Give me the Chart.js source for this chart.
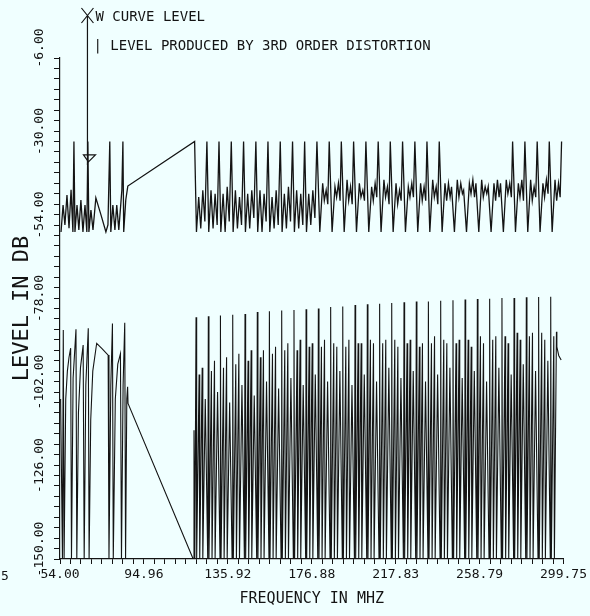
<!DOCTYPE html>
<html>
<head>
<meta charset="utf-8">
<script src="https://cdn.jsdelivr.net/npm/chart.js@4.4.0/dist/chart.umd.min.js"></script>
<style>
    html, body { margin: 0; padding: 0; background: #f0ffff; }
    #wrap { width: 590px; height: 616px; position: relative; }
</style>
</head>
<body>
<div id="wrap"><canvas id="myChart"></canvas></div>
<script>
var xTicks = [54.00, 94.96, 135.92, 176.88, 217.83, 258.79, 299.75];
var yTicks = [-150, -126, -102, -78, -54, -30, -6];

// W curve level (upper trace)
var wFreq = [
    54.5, 55.5, 56.4, 57.4, 58.4, 59.4, 60.3, 60.8, 61.3, 62.3, 63.2, 64.2, 65.2, 66.2, 67.1, 67.6, 68.1,
    69.1, 70.1, 71.5, 74.0, 76.4, 77.4, 78.3, 78.8, 79.8, 80.8, 81.7, 82.7, 84.2, 84.7, 85.1, 86.1, 87.1,
    119.7, 120.6, 121.7, 122.7, 123.7, 124.7,
    125.7, 126.6, 127.7, 128.7, 129.7, 130.7,
    131.6, 132.5, 133.6, 134.6, 135.6, 136.6,
    137.6, 138.5, 139.6, 140.6, 141.6, 142.6,
    143.6, 144.5, 145.6, 146.6, 147.6, 148.6,
    149.6, 150.5, 151.6, 152.6, 153.6, 154.6,
    155.5, 156.4, 157.5, 158.5, 159.5, 160.5,
    161.5, 162.4, 163.5, 164.5, 165.5, 166.5,
    167.5, 168.4, 169.5, 170.5, 171.5, 172.5,
    173.4, 174.3, 175.4, 176.4, 177.4, 178.4,
    179.4, 180.8, 182.2, 183.0, 183.9, 184.7,
    185.4, 186.8, 188.2, 189.0, 189.9, 190.7,
    191.3, 192.7, 194.1, 194.9, 195.8, 196.6,
    197.3, 198.7, 200.1, 200.9, 201.8, 202.6,
    203.3, 204.7, 206.1, 206.9, 207.8, 208.6,
    209.3, 210.7, 212.1, 212.9, 213.8, 214.6,
    215.2, 216.6, 218.0, 218.8, 219.7, 220.5,
    221.2, 222.6, 224.0, 224.8, 225.7, 226.5,
    227.2, 228.6, 230.0, 230.8, 231.7, 232.5,
    233.1, 234.5, 235.9, 236.7, 237.6, 238.4,
    239.1, 240.5, 241.9, 242.7, 243.6, 244.4,
    245.1, 246.5, 247.9, 248.7, 249.6, 250.4,
    251.0, 252.4, 253.8, 254.6, 255.5, 256.3,
    257.0, 258.4, 259.8, 260.6, 261.5, 262.3,
    263.0, 264.4, 265.8, 266.6, 267.5, 268.3,
    269.0, 270.4, 271.8, 272.6, 273.5, 274.3,
    274.9, 276.3, 277.7, 278.5, 279.4, 280.2,
    280.9, 282.3, 283.7, 284.5, 285.4, 286.2,
    286.9, 288.3, 289.7, 290.5, 291.4, 292.2,
    292.8, 294.2, 295.6, 296.4, 297.3, 298.1,
    298.8
];
var wLevel = [
    -56, -48.3, -54, -45.4, -54.9, -43.9, -56, -30, -56, -48.3, -55.4, -46.8, -56, -48.3, -56, -30, -56,
    -49.7, -55.4, -46.2, -51.1, -56, -54, -30, -56, -48.3, -55.4, -48.3, -55.4, -43.9, -30, -56, -46.8, -42.8,
    -30, -56, -46, -55, -44, -53,
    -30, -56, -44, -55, -45, -54,
    -30, -56, -45, -56, -43, -53,
    -30, -56, -44, -55, -46, -54,
    -30, -56, -45, -55, -44, -52,
    -30, -56, -44, -56, -45, -53,
    -30, -56, -46, -55, -44, -54,
    -30, -56, -45, -55, -43, -53,
    -30, -56, -44, -55, -45, -54,
    -30, -56, -45, -54, -44, -52,
    -30, -56, -42, -47, -44, -48,
    -30, -56, -43, -46, -42, -47,
    -30, -56, -41, -47, -43, -48,
    -30, -56, -42, -46, -44, -47,
    -30, -56, -43, -47, -42, -46,
    -30, -56, -41, -46, -43, -48,
    -30, -56, -42, -48, -44, -47,
    -30, -56, -43, -46, -42, -46,
    -30, -56, -42, -47, -43, -47,
    -30, -56, -41, -46, -43, -48,
    -30, -56, -42, -47, -42, -46,
    -43, -56, -41, -46, -42, -45,
    -44, -56, -42, -45, -41, -46,
    -42, -56, -41, -46, -43, -45,
    -43, -56, -42, -47, -41, -46,
    -42, -56, -41, -45, -42, -46,
    -30, -56, -42, -46, -41, -47,
    -30, -56, -41, -47, -43, -46,
    -30, -56, -42, -46, -41, -45,
    -30, -56, -41, -47, -42, -46,
    -30
];

// level produced by 3rd order distortion (lower trace)
var dFreq = [
    54.3, 55.2, 55.6, 56.0, 56.8, 57.6, 58.4, 59.2, 59.6, 60.4, 61.8, 62.2, 63.0, 64.0, 65.3, 65.8, 66.6,
    67.8, 68.2, 69.0, 70.0, 71.9, 74.5, 77.5, 77.9, 78.8, 79.6, 80.0, 81.0, 82.2, 83.5, 84.0, 84.8, 85.6,
    86.0, 86.6, 87.0, 87.2, 119.0, 119.4, 119.8,
    120.4, 120.7, 121.9, 122.2, 123.4, 123.7, 124.9, 126.1,
    126.4, 126.7, 127.9, 128.2, 129.4, 129.7, 130.9, 132.1,
    132.3, 132.6, 133.8, 134.1, 135.3, 135.6, 136.8, 138.0,
    138.3, 138.6, 139.8, 140.1, 141.3, 141.6, 142.8, 144.0,
    144.3, 144.6, 145.8, 146.1, 147.3, 147.6, 148.8, 150.0,
    150.3, 150.6, 151.8, 152.1, 153.3, 153.6, 154.8, 156.0,
    156.2, 156.5, 157.7, 158.0, 159.2, 159.5, 160.7, 161.9,
    162.2, 162.5, 163.7, 164.0, 165.2, 165.5, 166.7, 167.9,
    168.2, 168.5, 169.7, 170.0, 171.2, 171.5, 172.7, 173.9,
    174.1, 174.4, 175.6, 175.9, 177.1, 177.4, 178.6, 179.8,
    180.1, 180.4, 181.6, 181.9, 183.1, 183.4, 184.6, 185.8,
    186.1, 186.4, 187.6, 187.9, 189.1, 189.4, 190.6, 191.8,
    192.0, 192.3, 193.5, 193.8, 195.0, 195.3, 196.5, 197.7,
    198.0, 198.3, 199.5, 199.8, 201.0, 201.3, 202.5, 203.7,
    204.0, 204.3, 205.5, 205.8, 207.0, 207.3, 208.5, 209.7,
    210.0, 210.3, 211.5, 211.8, 213.0, 213.3, 214.5, 215.7,
    215.9, 216.2, 217.4, 217.7, 218.9, 219.2, 220.4, 221.6,
    221.9, 222.2, 223.4, 223.7, 224.9, 225.2, 226.4, 227.6,
    227.9, 228.2, 229.4, 229.7, 230.9, 231.2, 232.4, 233.6,
    233.8, 234.1, 235.3, 235.6, 236.8, 237.1, 238.3, 239.5,
    239.8, 240.1, 241.3, 241.6, 242.8, 243.1, 244.3, 245.5,
    245.8, 246.1, 247.3, 247.6, 248.8, 249.1, 250.3, 251.5,
    251.7, 252.0, 253.2, 253.5, 254.7, 255.0, 256.2, 257.4,
    257.7, 258.0, 259.2, 259.5, 260.7, 261.0, 262.2, 263.4,
    263.7, 264.0, 265.2, 265.5, 266.7, 267.0, 268.2, 269.4,
    269.7, 270.0, 271.2, 271.5, 272.7, 273.0, 274.2, 275.4,
    275.6, 275.9, 277.1, 277.4, 278.6, 278.9, 280.1, 281.3,
    281.6, 281.9, 283.1, 283.4, 284.6, 284.9, 286.1, 287.3,
    287.6, 287.9, 289.1, 289.4, 290.6, 290.9, 292.1, 293.3,
    293.5, 293.8, 295.0, 295.3, 296.3, 296.5, 297.4, 298.6
];
var dLevel = [
    -104, -150, -84.2, -150, -104, -96, -92, -89.4, -150, -98, -84, -150, -108, -95, -88.5, -150, -100,
    -83.7, -150, -110, -96, -88, -89.5, -91.4, -150, -100, -82.3, -150, -104, -94, -91, -150, -100, -82.1,
    -150, -104, -100.5, -105.3, -150, -113, -150,
    -80.5, -150, -97, -150, -95, -150, -104, -150,
    -80.2, -150, -96, -150, -93, -150, -102, -150,
    -80, -150, -95, -150, -92, -150, -105, -150,
    -79.8, -150, -94, -150, -91, -150, -100, -150,
    -79.6, -150, -93, -150, -90, -150, -103, -150,
    -79, -150, -92, -150, -90, -150, -99, -150,
    -78.8, -150, -91, -150, -89, -150, -101, -150,
    -78.6, -150, -90, -150, -88, -150, -98, -150,
    -78.4, -150, -90, -150, -87, -150, -100, -150,
    -78.2, -150, -89, -150, -88, -150, -97, -150,
    -78, -150, -89, -150, -87, -150, -99, -150,
    -77.6, -150, -88, -150, -89, -150, -96, -150,
    -77.4, -150, -89, -150, -87, -150, -100, -150,
    -77, -150, -88, -150, -88, -150, -97, -150,
    -76.8, -150, -87, -150, -88, -150, -99, -150,
    -76.6, -150, -88, -150, -87, -150, -95, -150,
    -76.4, -150, -87, -150, -89, -150, -98, -150,
    -76.2, -150, -88, -150, -87, -150, -96, -150,
    -76, -150, -89, -150, -88, -150, -99, -150,
    -76, -150, -88, -150, -86, -150, -97, -150,
    -75.8, -150, -87, -150, -88, -150, -95, -150,
    -75.6, -150, -88, -150, -87, -150, -98, -150,
    -75.4, -150, -87, -150, -89, -150, -96, -150,
    -75.3, -150, -86, -150, -88, -150, -99, -150,
    -75.2, -150, -87, -150, -86, -150, -95, -150,
    -75, -150, -86, -150, -88, -150, -97, -150,
    -75, -150, -85, -150, -87, -150, -94, -150,
    -74.8, -150, -86, -150, -85, -150, -96, -150,
    -74.7, -150, -85, -150, -87, -150, -93, -150,
    -74.6, -150, -86, -150, -84.7, -89, -91.5, -92.8
];

// where the legend arrow points on the W curve
var arrowFreq = 67.4;
var arrowLevel = -35;

var ink = '#141414';
var plotFont = '"DejaVu Sans Mono", "Liberation Mono", monospace';

function toPoints(xs, ys) {
    return xs.map(function (x, i) {
        return {x: x, y: ys[i]};
    });
}

function withMinor(major) {
    var list = [];
    for (var i = 0; i < major.length - 1; i++) {
        var step = (major[i + 1] - major[i]) / 8;
        for (var j = 0; j < 8; j++) {
            list.push({value: major[i] + j * step});
        }
    }
    list.push({value: major[major.length - 1]});
    return list;
}

var plotNotes = {
    id: 'plotNotes',
    beforeDraw: function (chart) {
        var c = chart.ctx;
        c.save();
        c.fillStyle = '#f0ffff';
        c.fillRect(0, 0, chart.width, chart.height);
        c.restore();
    },
    afterDraw: function (chart) {
        var c = chart.ctx;
        var ax = chart.scales.x.getPixelForValue(arrowFreq);
        var ay = chart.scales.y.getPixelForValue(arrowLevel);
        c.save();
        c.strokeStyle = ink;
        c.fillStyle = ink;
        c.lineWidth = 1.2;
        c.beginPath();
        c.moveTo(ax - 6, 8); c.lineTo(ax + 6, 23);
        c.moveTo(ax + 6, 8); c.lineTo(ax - 6, 23);
        c.moveTo(ax, 16); c.lineTo(ax, ay + 6);
        c.stroke();
        c.beginPath();
        c.moveTo(ax - 4, ay - 4);
        c.lineTo(ax + 8, ay - 4);
        c.lineTo(ax + 1, ay + 3);
        c.closePath();
        c.stroke();
        c.font = '14px ' + plotFont;
        c.textBaseline = 'middle';
        c.fillText('W CURVE LEVEL', ax + 8, 17);
        c.fillText('| LEVEL PRODUCED BY 3RD ORDER DISTORTION', ax + 6, 46);
        c.font = '13px ' + plotFont;
        c.fillText('5', 1, 577);
        c.restore();
    }
};

var ctx = document.getElementById('myChart');
var myChart = new Chart(ctx, {
    type: 'line',
    data: {
        datasets: [
            {
                label: 'W CURVE LEVEL',
                data: toPoints(wFreq, wLevel),
                borderColor: ink,
                borderWidth: 1.3,
                pointRadius: 0,
                tension: 0,
                fill: false
            },
            {
                label: 'LEVEL PRODUCED BY 3RD ORDER DISTORTION',
                data: toPoints(dFreq, dLevel),
                borderColor: ink,
                borderWidth: 1.1,
                pointRadius: 0,
                tension: 0,
                fill: false
            }
        ]
    },
    options: {
        responsive: true,
        maintainAspectRatio: false,
        animation: false,
        layout: {padding: {left: 0, right: 25, top: 58, bottom: 0}},
        plugins: {
            legend: {display: false},
            tooltip: {enabled: false}
        },
        scales: {
            x: {
                type: 'linear',
                min: 54,
                max: 299.75,
                afterBuildTicks: function (axis) {
                    axis.ticks = withMinor(xTicks);
                },
                afterFit: function (axis) {
                    axis.height = 57;
                },
                grid: {drawOnChartArea: false, drawTicks: true, tickLength: 5, color: ink, tickColor: ink},
                border: {display: true, color: ink, width: 1.2},
                ticks: {
                    autoSkip: false,
                    maxRotation: 0,
                    padding: 3,
                    color: ink,
                    font: {family: plotFont, size: 13},
                    callback: function (value, index) {
                        return index % 8 === 0 ? value.toFixed(2) : '';
                    }
                },
                title: {
                    display: true,
                    text: 'FREQUENCY IN MHZ',
                    color: ink,
                    font: {family: plotFont, size: 15},
                    padding: {top: 0, bottom: 8}
                }
            },
            y: {
                type: 'linear',
                min: -150,
                max: -6,
                afterBuildTicks: function (axis) {
                    axis.ticks = withMinor(yTicks);
                },
                afterFit: function (axis) {
                    axis.width = 60;
                },
                grid: {drawOnChartArea: false, drawTicks: true, tickLength: 6, color: ink, tickColor: ink},
                border: {display: true, color: ink, width: 1.2},
                ticks: {
                    autoSkip: false,
                    minRotation: 90,
                    maxRotation: 90,
                    crossAlign: 'center',
                    padding: -13,
                    labelOffset: -10,
                    color: ink,
                    font: {family: plotFont, size: 13},
                    callback: function (value, index) {
                        return index % 8 === 0 ? value.toFixed(2) : '';
                    }
                },
                title: {
                    display: true,
                    text: 'LEVEL IN DB',
                    color: ink,
                    font: {family: plotFont, size: 22},
                    padding: {top: 9, bottom: 0}
                }
            }
        }
    },
    plugins: [plotNotes]
});
</script>
</body>
</html>
